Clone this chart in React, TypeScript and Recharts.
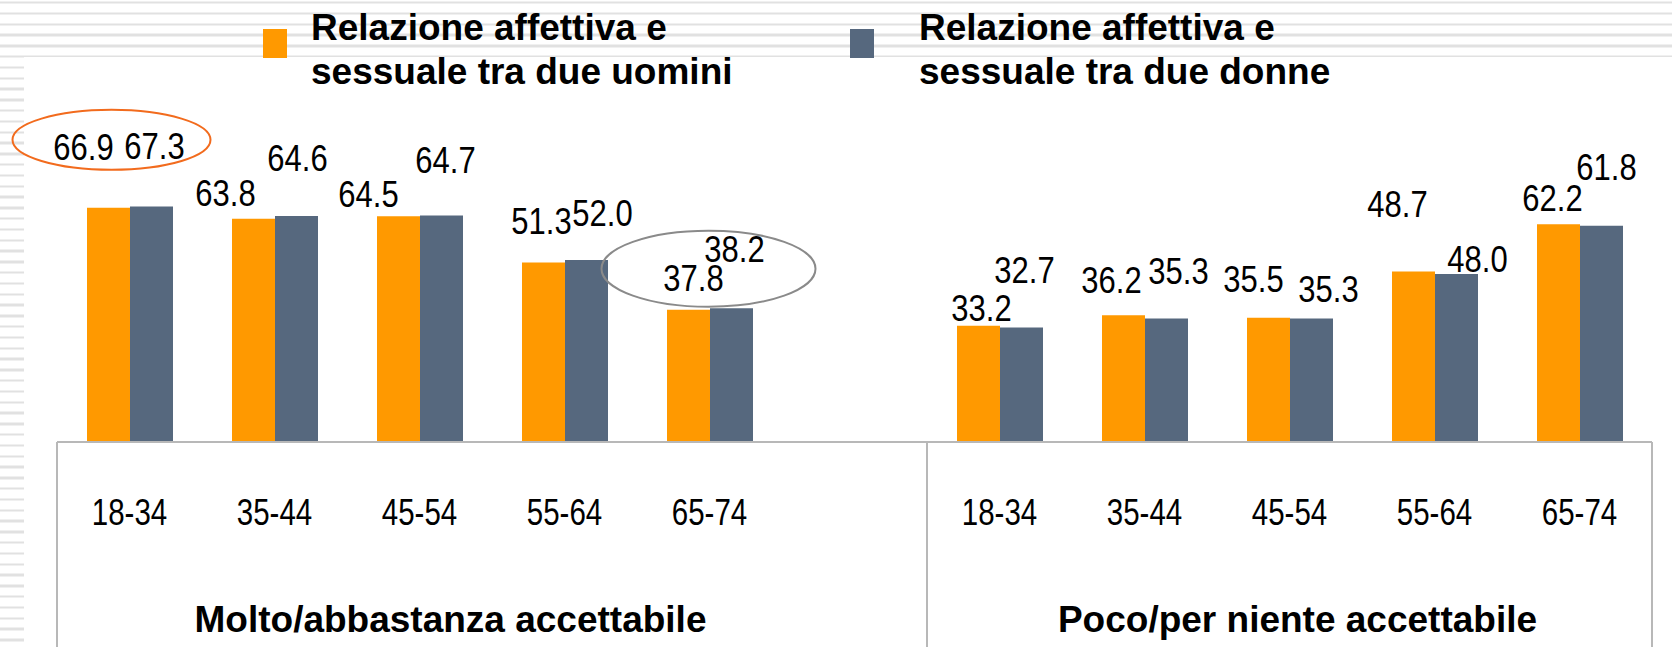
import React from 'react';
import { BarChart, Bar, XAxis, YAxis, LabelList } from 'recharts';

// age bands: left block (with one empty slot as spacer) and right block
const ageBands = ['18-34', '35-44', '45-54', '55-64', '65-74', '', '18-34', '35-44', '45-54', '55-64', '65-74'];
const uomini = [66.9, 63.8, 64.5, 51.3, 37.8, null, 33.2, 36.2, 35.5, 48.7, 62.2];
const donne = [67.3, 64.6, 64.7, 52.0, 38.2, null, 32.7, 35.3, 35.3, 48.0, 61.8];
const groupLabels = ['Molto/abbastanza accettabile', 'Poco/per niente accettabile'];
const seriesNames = ['Relazione affettiva e sessuale tra due uomini', 'Relazione affettiva e sessuale tra due donne'];

const data = ageBands.map((age, i) => ({ age, uomini: uomini[i], donne: donne[i] }));

const W = 1672;
const H = 647;
const M = { top: 92, right: 20, bottom: 175, left: 57 };
const BAND = (W - M.left - M.right) / ageBands.length;
const HALF = BAND / 2;

const colors = {
  uomini: '#FF9900',
  donne: '#56687E',
  axis: '#b8b8b8',
  stripe: '#e1e1e1',
};

// hand-placed label nudges (dx, dy from bar top centre), as in the original slide
const uominiNudge = [[-25, -61], [-28, -26], [-30, -23], [-2, -42], [5, -32], [0, 0], [3, -18], [-12, -36], [-15, -39], [-16, -68], [-6, -27]];
const donneNudge = [[3, -61], [1, -59], [4, -56], [16, -48], [3, -60], [0, 0], [3, -58], [12, -48], [17, -30], [21, -16], [5, -59]];

// highlight rings, anchored on the orange bar of the given category
const rings = [
  { index: 0, dx: 3, dy: -68, rx: 99, ry: 30, stroke: '#F26B1D' },
  { index: 4, dx: 20, dy: -41, rx: 107, ry: 38, stroke: '#8a8a8a' },
];

// group labels under the axis
const groups = [
  { first: 0, last: 5, labelAt: 2, dx: 31 },
  { first: 6, last: 10, labelAt: 8, dx: 8 },
];

// LabelList skips empty entries, so map its index back to the category index
const presentIdx = (vals: (number | null)[]) =>
  vals.map((v, i) => (v == null ? -1 : i)).filter((i) => i >= 0);

const makeValueLabel = (vals: (number | null)[], nudges: number[][], withRings: boolean) => {
  const idx = presentIdx(vals);
  return (props: any) => {
    const { x, y, width, value, index } = props;
    if (value == null) return null;
    const cat = idx[index] ?? index;
    const [dx, dy] = nudges[cat];
    const bx = x + width / 2;
    const cx = bx + dx;
    const cy = y + dy;
    const ring = withRings ? rings.find((r) => r.index === cat) : null;
    return (
      <g>
        {ring && (
          <ellipse cx={bx + ring.dx} cy={y + ring.dy} rx={ring.rx} ry={ring.ry} fill="none" stroke={ring.stroke} strokeWidth={2} />
        )}
        <text
          transform={`translate(${cx},${cy}) scale(1,1.22)`}
          textAnchor="middle"
          dy="0.36em"
          fontFamily="'Liberation Sans', Arial, sans-serif"
          fontSize={31}
          fill="#000"
        >
          {Number(value).toFixed(1)}
        </text>
      </g>
    );
  };
};

const AgeTick = (props: any) => {
  const { x, y, payload, index } = props;
  const bottom = H - y;
  const lines: number[] = [];
  groups.forEach((g, gi) => {
    if (index === g.first && gi === 0) lines.push(x - HALF);
    if (index === g.last) lines.push(x + HALF);
  });
  const grp = groups.findIndex((g) => g.labelAt === index);
  return (
    <g>
      {lines.map((lx, i) => (
        <line key={i} x1={lx} y1={y} x2={lx} y2={y + bottom} stroke={colors.axis} strokeWidth={2} />
      ))}
      <text
        transform={`translate(${x},${y + 70}) scale(1,1.27)`}
        textAnchor="middle"
        dy="0.36em"
        fontFamily="'Liberation Sans', Arial, sans-serif"
        fontSize={29.5}
        fill="#000"
      >
        {payload.value}
      </text>
      {grp >= 0 && (
        <text
          x={x + groups[grp].dx}
          y={y + 190}
          textAnchor="middle"
          fontFamily="'Liberation Sans', Arial, sans-serif"
          fontWeight="bold"
          fontSize={37}
          fill="#000"
        >
          {groupLabels[grp]}
        </text>
      )}
    </g>
  );
};

const legendItems = [
  { name: seriesNames[0], color: colors.uomini, boxX: 263, textX: 311 },
  { name: seriesNames[1], color: colors.donne, boxX: 850, textX: 919 },
];

export default function App() {
  return (
    <div
      style={{
        position: 'absolute',
        left: 0,
        top: 0,
        width: W,
        height: H,
        overflow: 'hidden',
        background: `repeating-linear-gradient(180deg, ${colors.stripe} 0px, ${colors.stripe} 2.5px, #fff 2.5px, #fff 10.8px)`,
        backgroundPosition: '0 1.5px',
        fontFamily: "'Liberation Sans', Arial, sans-serif",
      }}
    >
      <div style={{ position: 'absolute', left: 24, top: 57, right: 0, bottom: 0, background: '#fff' }} />
      {legendItems.map((it) => (
        <React.Fragment key={it.name}>
          <div style={{ position: 'absolute', left: it.boxX, top: 29, width: 24, height: 29, background: it.color }} />
          <div
            style={{
              position: 'absolute',
              left: it.textX,
              top: 6,
              width: 440,
              fontSize: 37,
              lineHeight: '44px',
              fontWeight: 'bold',
              color: '#000',
            }}
          >
            {it.name}
          </div>
        </React.Fragment>
      ))}
      <div style={{ position: 'absolute', left: 0, top: 0 }}>
        <BarChart width={W} height={H} data={data} margin={M} barCategoryGap={30} barGap={0}>
          <YAxis hide domain={[0, 100]} />
          <XAxis
            dataKey="age"
            interval={0}
            height={30}
            tickLine={false}
            tickSize={0}
            tickMargin={0}
            axisLine={{ stroke: colors.axis, strokeWidth: 2 }}
            tick={<AgeTick />}
          />
          <Bar dataKey="uomini" name={seriesNames[0]} fill={colors.uomini} isAnimationActive={false}>
            <LabelList dataKey="uomini" content={makeValueLabel(uomini, uominiNudge, true)} />
          </Bar>
          <Bar dataKey="donne" name={seriesNames[1]} fill={colors.donne} isAnimationActive={false}>
            <LabelList dataKey="donne" content={makeValueLabel(donne, donneNudge, false)} />
          </Bar>
        </BarChart>
      </div>
    </div>
  );
}
